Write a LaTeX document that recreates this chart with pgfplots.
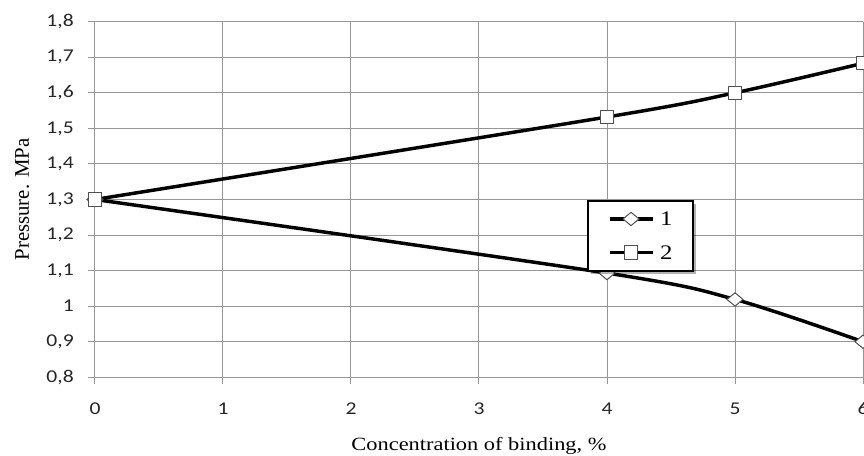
\documentclass[border=0pt]{standalone}
\usepackage{fontspec}
\usepackage{pgfplots}
\pgfplotsset{compat=1.18}
\usetikzlibrary{shadows}
\setmainfont{Liberation Serif}
\newfontfamily\tickfont{Carlito}[FakeStretch=1.2]
\newfontfamily\labelfont{Liberation Serif}[FakeStretch=1.2]
\definecolor{gridgray}{RGB}{150,150,150}
\definecolor{markgray}{RGB}{80,80,80}
\makeatletter
\tikzset{no preactions/.code={\let\tikz@preactions\pgfutil@empty}}
\makeatother

\begin{document}
\begin{tikzpicture}
\useasboundingbox (-71.25pt,-58.3pt) rectangle (576.75pt,282.96pt);
\clip (-71.25pt,-58.3pt) rectangle (576.75pt,282.96pt);
\begin{axis}[
    width=576pt, height=266.7pt, scale only axis,
    xmin=0, xmax=6,
    ymin=0.8, ymax=1.8,
    xtick={0,1,2,3,4,5,6},
    ytick={0.8,0.9,1,1.1,1.2,1.3,1.4,1.5,1.6,1.7,1.8},
    axis lines*=left,
    axis line style={draw=gridgray, line width=0.75pt, -},
    grid=major,
    major grid style={draw=gridgray, line width=0.75pt},
    tick align=outside,
    major tick length=5.25pt,
    tick style={draw=gridgray, line width=0.75pt},
    /pgf/number format/use comma,
    /pgf/number format/assume math mode=true,
    ticklabel style={font=\fontsize{13.5}{16}\tickfont, text=black!85, inner sep=0pt},
    yticklabel style={anchor=east, xshift=-10.5pt},
    xticklabel style={anchor=north, yshift=-13.5pt},
    xlabel={Concentration of binding, \%},
    ylabel={Pressure. MPa},
    every axis x label/.style={at={(axis description cs:0.5,0)}, anchor=base, yshift=-55pt, font=\fontsize{14}{17}\labelfont},
    every axis y label/.style={at={(axis description cs:0,0.5)}, xshift=-49.5pt, rotate=90, anchor=base, font=\fontsize{15.6}{18}\selectfont},
    legend style={
        at={(axis description cs:0.6406,0.4987)}, anchor=north west,
        draw=black, line width=1.5pt, fill=white,
        drop shadow={shadow xshift=2.5pt, shadow yshift=-2.5pt, fill=black, opacity=0.3},
        inner xsep=15pt, inner ysep=8.4pt, row sep=15pt, column sep=4.5pt,
        nodes={inner sep=0pt, text depth=0pt, no preactions},
        font=\fontsize{15.5}{18}\labelfont,
    },
    legend cell align=left,
    legend image code/.code={
        \draw[no preactions, mark repeat=2, mark phase=2, #1, every mark/.append style={no preactions}]
            plot coordinates {(0pt,0pt) (16pt,0pt) (32pt,0pt)};
    },
]

\addplot[
    black, line width=2.6pt, smooth,
    mark=diamond*, mark size=5pt,
    mark options={fill=white, draw=markgray, line width=0.75pt, xscale=1.6},
    ]
    coordinates {
    (0,1.30)(4,1.093)(5,1.019)(6,0.90)
    };
\addlegendentry{1}

\addplot[
    black, line width=2.6pt, smooth,
    mark=square*, mark size=5pt,
    mark options={fill=white, draw=markgray, line width=0.75pt},
    ]
    coordinates {
    (0,1.30)(4,1.532)(5,1.600)(6,1.683)
    };
\addlegendentry{2}
\end{axis}
\end{tikzpicture}
\end{document}
